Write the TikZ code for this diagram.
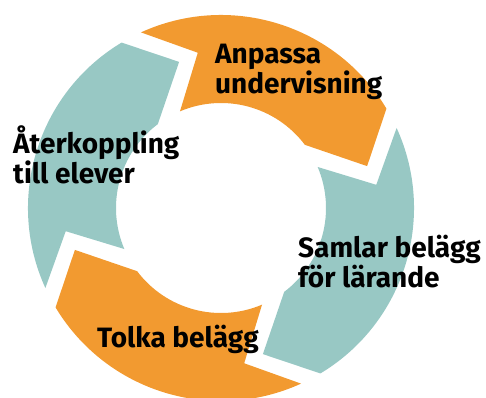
\documentclass[tikz,border=0pt]{standalone}
\usepackage{fontspec}
\setmainfont{Fira Sans}
\definecolor{cycleorange}{RGB}{242,154,48}
\definecolor{cycleteal}{RGB}{152,200,196}
\tikzset{
  steplabel/.style={anchor=base west, align=left, inner sep=0pt,
    font=\fontsize{28}{28}\selectfont\bfseries}
}
\begin{document}
\begin{tikzpicture}[x=1pt, y=1pt]
            \useasboundingbox (-221,-189) rectangle (265,208);

            \fill[cycleorange]
            (114.5:193)             % Start at outer corner of the notch
            arc(114.5:31:193)       % Outer arc: radius=193, clockwise to the head
            -- (16:152)             % Tip of the head
            -- (37:105)             % Inner corner of the head
            arc(37:113:105)         % Inner arc: radius=105, back to the notch
            -- (98.5:157)           % Notch point
            -- cycle;

            \begin{scope}[rotate=-90]
            \fill[cycleteal]
            (114.5:193)
            arc(114.5:31:193)
            -- (16:152)
            -- (37:105)
            arc(37:113:105)
            -- (98.5:157)
            -- cycle;
            \end{scope}

            \begin{scope}[rotate=-180]
            \fill[cycleorange]
            (114.5:193)
            arc(114.5:31:193)
            -- (16:152)
            -- (37:105)
            arc(37:113:105)
            -- (98.5:157)
            -- cycle;
            \end{scope}

            \begin{scope}[rotate=-270]
            \fill[cycleteal]
            (114.5:193)
            arc(114.5:31:193)
            -- (16:152)
            -- (37:105)
            arc(37:113:105)
            -- (98.5:157)
            -- cycle;
            \end{scope}

            % Labels (base anchor sits on the last line)
            \node[steplabel] (anpassa) at (-6,115) {Anpassa\\undervisning};
            \node[steplabel] (samlar) at (77,-79) {Samlar belägg\\för lärande};
            \node[steplabel] (tolka) at (-124,-139) {Tolka belägg};
            \node[steplabel] (aterkoppling) at (-208,25) {Återkoppling\\till elever};
        \end{tikzpicture}
\end{document}
